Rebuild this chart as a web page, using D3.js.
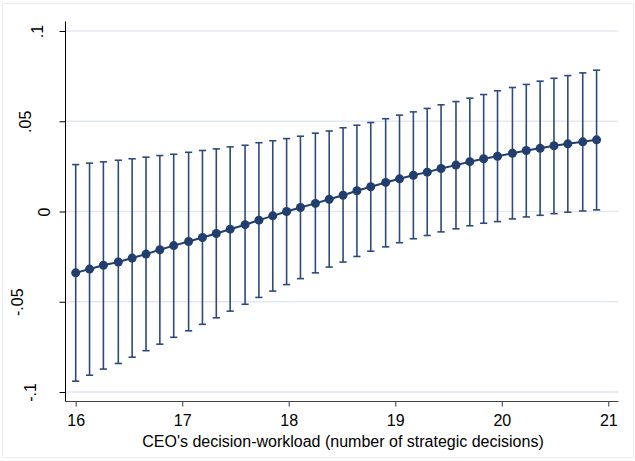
<!DOCTYPE html>
<html>
<head>
<meta charset="utf-8">
<script src="https://cdn.jsdelivr.net/npm/d3@7"></script>
<style>
  body { margin: 0; background: #ffffff; }
  text { font-family: "Liberation Sans", Arial, Helvetica, sans-serif; fill: #000; }
</style>
</head>
<body>
<svg id="chart" width="635" height="461"></svg>
<script>
// Decision workload at which the marginal effect is evaluated
const workload = [16.00, 16.13, 16.26, 16.40, 16.53, 16.66, 16.79, 16.92, 17.06, 17.19,
                  17.32, 17.45, 17.59, 17.72, 17.85, 17.98, 18.11, 18.25, 18.38, 18.51,
                  18.64, 18.77, 18.91, 19.04, 19.17, 19.30, 19.43, 19.57, 19.70, 19.83,
                  19.96, 20.10, 20.23, 20.36, 20.49, 20.62, 20.76, 20.89];
// Point estimates of the marginal effect
const effect = [-0.0340, -0.0319, -0.0298, -0.0280, -0.0258, -0.0236, -0.0212, -0.0189, -0.0166, -0.0144,
                -0.0122, -0.0098, -0.0073, -0.0048, -0.0024, 0.0000, 0.0022, 0.0045, 0.0068, 0.0090,
                0.0115, 0.0137, 0.0161, 0.0181, 0.0201, 0.0218, 0.0238, 0.0257, 0.0276, 0.0292,
                0.0306, 0.0323, 0.0338, 0.0350, 0.0364, 0.0375, 0.0386, 0.0397];
// 95% confidence bounds
const ciLower = [-0.0940, -0.0907, -0.0873, -0.0842, -0.0807, -0.0771, -0.0735, -0.0697, -0.0661, -0.0625,
                 -0.0589, -0.0552, -0.0514, -0.0476, -0.0441, -0.0405, -0.0372, -0.0340, -0.0308, -0.0280,
                 -0.0249, -0.0220, -0.0196, -0.0173, -0.0151, -0.0133, -0.0113, -0.0096, -0.0079, -0.0065,
                 -0.0056, -0.0041, -0.0030, -0.0021, -0.0012, -0.0004, 0.0003, 0.0009];
const ciUpper = [0.0260, 0.0268, 0.0275, 0.0284, 0.0292, 0.0301, 0.0310, 0.0317, 0.0328, 0.0338,
                 0.0347, 0.0358, 0.0367, 0.0381, 0.0392, 0.0404, 0.0417, 0.0434, 0.0446, 0.0464,
                 0.0478, 0.0493, 0.0514, 0.0534, 0.0552, 0.0571, 0.0591, 0.0609, 0.0628, 0.0648,
                 0.0669, 0.0687, 0.0704, 0.0722, 0.0738, 0.0753, 0.0768, 0.0783];

const xTicks = [16, 17, 18, 19, 20, 21];
const yTicks = [-0.1, -0.05, 0, 0.05, 0.1];
const yTickLabels = ["-.1", "-.05", "0", ".05", ".1"];
const xTitle = "CEO's decision-workload (number of strategic decisions)";

const navy = "#213e6e";
const barColor = "#2c4a7c";
const gridColor = "#e3e9f0";
const fontSize = 16;

const svg = d3.select("#chart");

// plot region
const plot = { left: 65.5, right: 618.5, top: 21.5, bottom: 401.5 };

const x = d3.scaleLinear().domain([16, 21]).range([75.7, 608.3]);
const y = d3.scaleLinear().domain([-0.1, 0.1]).range([392, 31]);

// outer graph border
svg.append("rect")
  .attr("x", 2.5).attr("y", 3.5)
  .attr("width", 631).attr("height", 454)
  .attr("fill", "none")
  .attr("stroke", "#e8edf3")
  .attr("stroke-width", 1);

// horizontal grid lines
svg.append("g").selectAll("line")
  .data(yTicks)
  .join("line")
  .attr("x1", plot.left).attr("x2", plot.right)
  .attr("y1", d => y(d)).attr("y2", d => y(d))
  .attr("stroke", gridColor)
  .attr("stroke-width", 1.5);

// y axis
const yAxis = svg.append("g")
  .attr("transform", `translate(${plot.left},0)`)
  .call(d3.axisLeft(y).tickValues(yTicks).tickSize(6).tickPadding(0)
        .tickFormat((d, i) => yTickLabels[i]));
yAxis.select(".domain").remove();
yAxis.selectAll(".tick line").attr("stroke", "#000").attr("stroke-width", 1);
yAxis.selectAll(".tick text")
  .attr("font-size", fontSize)
  .attr("x", null)
  .attr("y", 0)
  .attr("dy", "0.36em")
  .attr("text-anchor", "middle")
  .each(function () {
    const w = this.getComputedTextLength();
    // vertical labels: centre shifts left with label length
    const cx = 56.5 - 1.41 * w;
    d3.select(this).attr("transform", `translate(${cx - plot.left},0) rotate(-90)`);
  });

svg.append("line")
  .attr("x1", plot.left).attr("x2", plot.left)
  .attr("y1", plot.top).attr("y2", plot.bottom)
  .attr("stroke", "#000").attr("stroke-width", 1);

// x axis
const xAxis = svg.append("g")
  .attr("transform", `translate(0,${plot.bottom})`)
  .call(d3.axisBottom(x).tickValues(xTicks).tickSize(5).tickPadding(8)
        .tickFormat(d3.format("d")));
xAxis.select(".domain").remove();
xAxis.selectAll(".tick line").attr("stroke", "#333");
xAxis.selectAll(".tick text").attr("font-size", fontSize);

svg.append("line")
  .attr("x1", plot.left).attr("x2", plot.right)
  .attr("y1", plot.bottom).attr("y2", plot.bottom)
  .attr("stroke", "#444").attr("stroke-width", 1);

svg.append("text")
  .attr("x", (x(16) + x(21)) / 2 + 1)
  .attr("y", 446.5)
  .attr("text-anchor", "middle")
  .attr("font-size", fontSize)
  .text(xTitle);

// confidence intervals
const rows = workload.map((w, i) => ({ w, m: effect[i], lo: ciLower[i], hi: ciUpper[i] }));
const ci = svg.append("g").attr("stroke", barColor).attr("stroke-width", 1.6);
ci.selectAll("line.bar").data(rows).join("line").attr("class", "bar")
  .attr("x1", d => x(d.w)).attr("x2", d => x(d.w))
  .attr("y1", d => y(d.lo)).attr("y2", d => y(d.hi));
ci.selectAll("line.capHi").data(rows).join("line").attr("class", "capHi")
  .attr("x1", d => x(d.w) - 3.6).attr("x2", d => x(d.w) + 3.6)
  .attr("y1", d => y(d.hi)).attr("y2", d => y(d.hi));
ci.selectAll("line.capLo").data(rows).join("line").attr("class", "capLo")
  .attr("x1", d => x(d.w) - 3.6).attr("x2", d => x(d.w) + 3.6)
  .attr("y1", d => y(d.lo)).attr("y2", d => y(d.lo));

// point estimates
svg.append("path")
  .datum(rows)
  .attr("fill", "none")
  .attr("stroke", navy)
  .attr("stroke-width", 2)
  .attr("d", d3.line().x(d => x(d.w)).y(d => y(d.m)));

svg.append("g").selectAll("circle")
  .data(rows)
  .join("circle")
  .attr("cx", d => x(d.w))
  .attr("cy", d => y(d.m))
  .attr("r", 4.5)
  .attr("fill", navy);
</script>
</body>
</html>
